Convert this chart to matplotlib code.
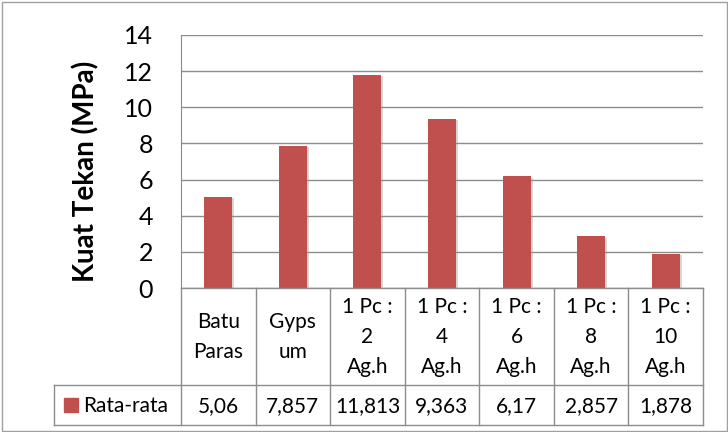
import matplotlib.pyplot as plt
from matplotlib.patches import Rectangle
import matplotlib.patheffects as pe

categories = ['Batu\nParas', 'Gyps\num', '1 Pc :\n2\nAg.h', '1 Pc :\n4\nAg.h',
              '1 Pc :\n6\nAg.h', '1 Pc :\n8\nAg.h', '1 Pc :\n10\nAg.h']
rata_rata = [5.06, 7.857, 11.813, 9.363, 6.17, 2.857, 1.878]
value_labels = ['5,06', '7,857', '11,813', '9,363', '6,17', '2,857', '1,878']
series_name = 'Rata-rata'

bar_color = '#C0504D'
line_color = '#8c8c8c'

plt.rcParams['font.family'] = ['Lato', 'DejaVu Sans']

W, H = 728, 432
fig = plt.figure(figsize=(W / 100, H / 100), dpi=100)

# plot area (pixel layout)
ax = fig.add_axes([181 / W, 1 - 288 / H, 522 / W, 253 / H])
x = list(range(len(categories)))
bars = ax.bar(x, rata_rata, width=0.375, color=bar_color, zorder=3)
for b in bars:
    b.set_path_effects([pe.SimplePatchShadow(offset=(1.5, -1.0), shadow_rgbFace='#999999', alpha=0.4),
                        pe.Normal()])
ax.set_xlim(-0.5, len(categories) - 0.5)
ax.set_ylim(0, 14)
ax.set_yticks(range(0, 15, 2))
ax.set_xticks([])
ax.tick_params(axis='y', length=0, pad=20, labelsize=18)
ax.yaxis.grid(True, color=line_color, linewidth=1.0, zorder=0)
for s in ['top', 'right', 'bottom']:
    ax.spines[s].set_visible(False)
ax.spines['left'].set_color(line_color)
fig.text(86 / W, 1 - 171 / H, 'Kuat Tekan (MPa)', rotation=90, ha='center', va='center',
         fontsize=20, fontweight='bold')

# data table underneath
tab = fig.add_axes([181 / W, 1 - 425 / H, 522 / W, 137 / H])
tab.set_xlim(-0.5, len(categories) - 0.5)
tab.set_ylim(137, 0)
tab.axis('off')
left = -2.2
lkw = dict(color=line_color, linewidth=1.0, clip_on=False)
tab.plot([-0.5, len(categories) - 0.5], [0, 0], **lkw)
tab.plot([left, len(categories) - 0.5], [97, 97], **lkw)
tab.plot([left, len(categories) - 0.5], [137, 137], **lkw)
for i in range(len(categories) + 1):
    tab.plot([i - 0.5, i - 0.5], [0, 137], **lkw)
tab.plot([left, left], [97, 137], **lkw)

for xi, cat, val in zip(x, categories, value_labels):
    tab.text(xi, 49, cat, ha='center', va='center', fontsize=15, linespacing=1.6)
    tab.text(xi, 118, val, ha='center', va='center', fontsize=15)

tab.plot([-1.97], [117], marker='s', markersize=9.5, color=bar_color, clip_on=False)
tab.text(-1.81, 118, series_name, ha='left', va='center', fontsize=15, clip_on=False)

fig.patches.append(Rectangle((1.5 / W, 1.5 / H), 1 - 3 / W, 1 - 3 / H, transform=fig.transFigure,
                             fill=False, edgecolor='#a0a0a0', linewidth=1.0))

fig.savefig('out.png', dpi=100)
